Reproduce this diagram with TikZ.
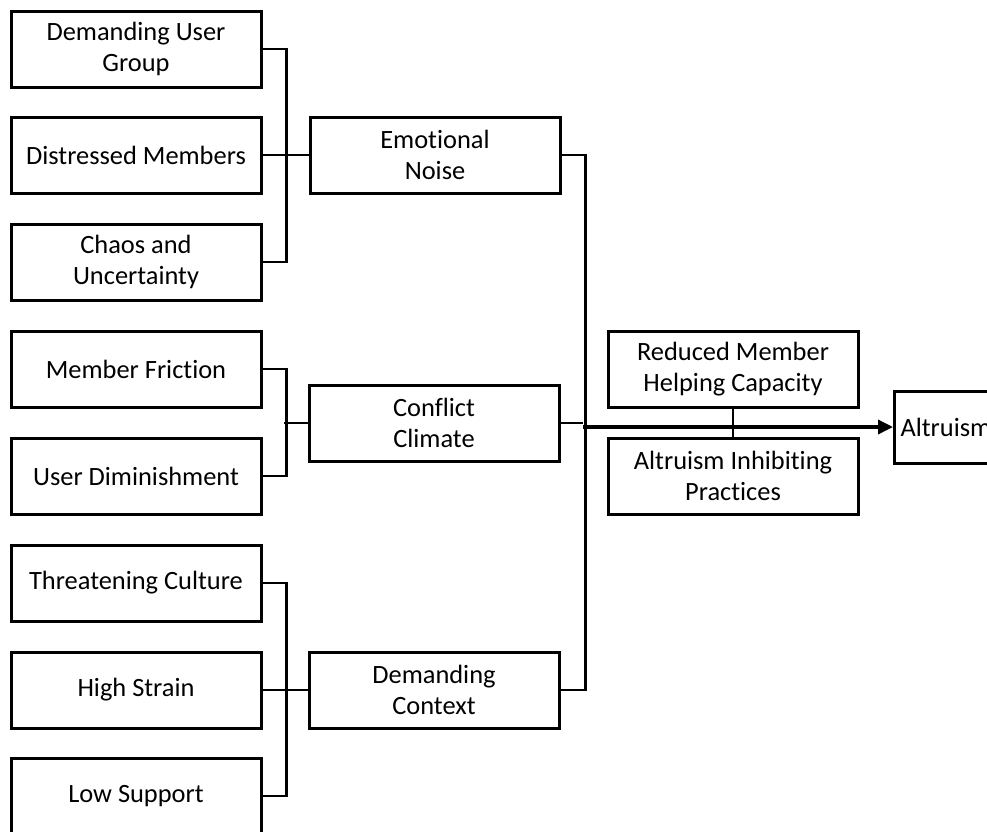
\documentclass[tikz,border=0pt]{standalone}
\usepackage{fontspec}
\setmainfont{Carlito}[Ligatures=NoCommon]
\usetikzlibrary{arrows.meta}

\tikzset{
  box/.style={draw, line width=3pt, minimum width=250pt, minimum height=76pt,
              inner sep=0pt, align=center, font=\fontsize{26.4}{30.5}\selectfont},
  link/.style={line width=2.8pt},
}

\begin{document}
\begin{tikzpicture}[x=1pt, y=-1pt]
  \useasboundingbox (0,0) rectangle (987,831);
  \clip (0,0) rectangle (987,831);

  % first group: sources of emotional noise
  \node[box] (dug) at (136,49)  {Demanding User\\Group};
  \node[box] (dm)  at (136,155) {Distressed Members};
  \node[box] (cu)  at (136,262) {Chaos and\\Uncertainty};
  \node[box] (en)  at (435,155) {Emotional\\Noise};

  % second group: conflict climate
  \node[box] (mf)  at (136,369) {Member Friction};
  \node[box] (ud)  at (136,476) {User Diminishment};
  \node[box] (cc)  at (434,423) {Conflict\\Climate};

  % third group: demanding context
  \node[box] (tc)  at (136,583) {Threatening Culture};
  \node[box] (hs)  at (136,690) {High Strain};
  \node[box] (ls)  at (136,796) {Low Support};
  \node[box] (dc)  at (434,690) {Demanding\\Context};

  % moderators and outcome
  \node[box] (rm)  at (733,369) {Reduced Member\\Helping Capacity};
  \node[box] (ai)  at (733,476) {Altruism Inhibiting\\Practices};
  \node[box, minimum width=0pt, minimum height=72pt, text width=110pt,
        inner xsep=6pt, align=left, anchor=west] (alt) at (893,427) {Altruism};

  \coordinate (j) at (583,427);

  % left-hand brackets
  \draw[link] (dug.east) -- ++(24,0) |- (cu.east);
  \draw[link] (dm.east) -- (en.west);
  \draw[link] (mf.east) -- ++(24,0) |- (ud.east);
  \draw[link] (cc.west) -- ++(-24,0);
  \draw[link] (tc.east) -- ++(24,0) |- (ls.east);
  \draw[link] (hs.east) -- (dc.west);

  % right-hand bracket joining the three factors
  \draw[link] (en.east) -- ++(24,0) |- (dc.east);
  \draw[link] (cc.east) -- (cc.east -| j);
  \draw[link, line width=3.4pt, -{Triangle[length=15pt,width=14pt]}] (j) -- (alt.west);
  \draw[link, line width=2.4pt] (rm.south) -- (ai.north);
\end{tikzpicture}
\end{document}
